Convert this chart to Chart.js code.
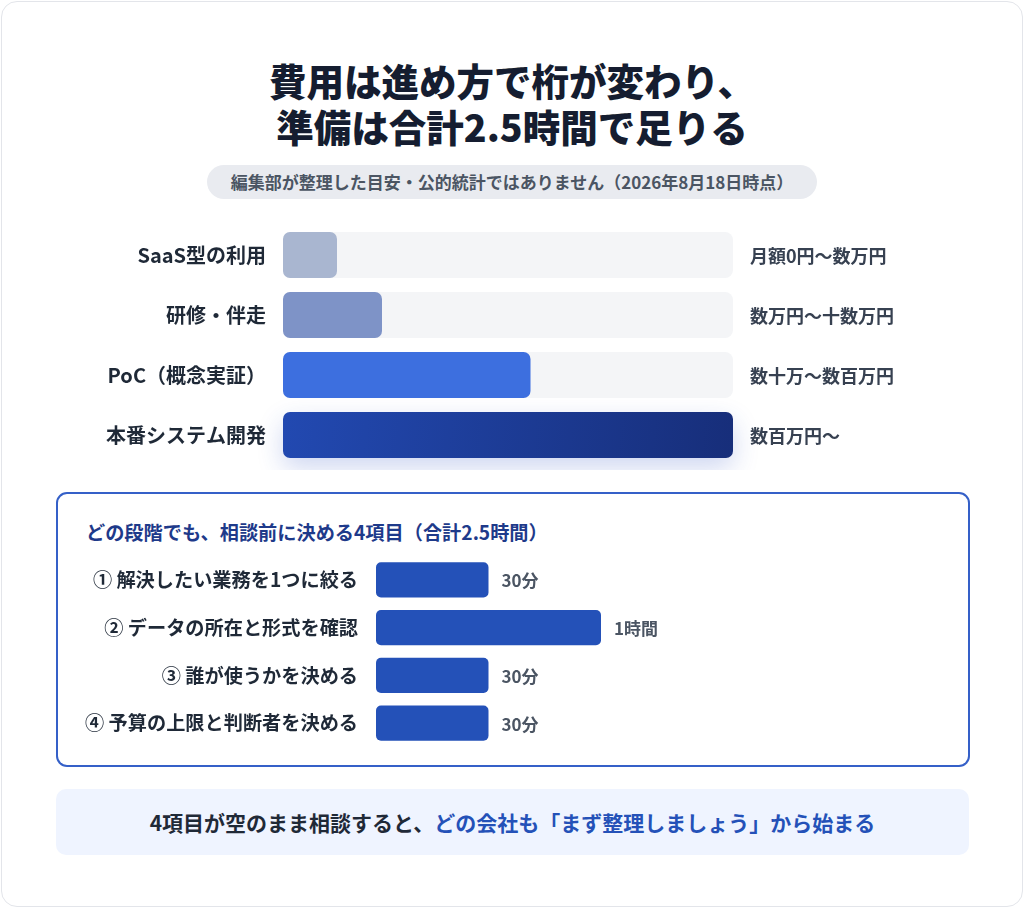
<!DOCTYPE html>
<html lang="ja">
<head>
<meta charset="utf-8">
<script src="https://cdn.jsdelivr.net/npm/chart.js@4.4.1/dist/chart.umd.min.js"></script>
<style>
  html,body{margin:0;padding:0;background:#ffffff;}
  body{width:1024px;height:908px;position:relative;overflow:hidden;font-family:'Noto Sans CJK JP','Noto Sans',sans-serif;}
  .card{position:absolute;left:1px;top:1px;width:1020px;height:904px;border:1px solid #e3e5ea;border-radius:16px;background:#fff;}
  .title{position:absolute;left:0;top:57px;width:1024px;text-align:center;font-size:37.5px;font-weight:900;line-height:46px;color:#151d30;}
  .pill{position:absolute;left:207px;top:165px;width:610px;height:34px;border-radius:17px;background:#e9ebf0;color:#4b5563;font-size:17px;font-weight:700;line-height:34px;text-align:center;white-space:nowrap;}
  .box{position:absolute;left:56px;top:492px;width:910px;height:271px;border:2px solid #3560c8;border-radius:11px;}
  .boxtitle{position:absolute;left:86px;top:518px;font-size:19.2px;font-weight:700;color:#1e3a8a;line-height:28px;white-space:nowrap;}
  .foot{position:absolute;left:56px;top:789px;width:913px;height:66px;border-radius:10px;background:#eff4ff;text-align:center;line-height:66px;font-size:21px;font-weight:700;color:#1f2937;white-space:nowrap;}
  .foot span{color:#2451b8;}
  canvas{position:absolute;left:0;}
  #c1{top:220px;}
  #c2{top:550px;}
</style>
</head>
<body>
<div class="card"></div>
<div class="title">費用は進め方で桁が変わり、<br>準備は合計2.5時間で足りる</div>
<div class="pill">編集部が整理した目安・公的統計ではありません（2026年8月18日時点）</div>
<canvas id="c1" width="1024" height="250"></canvas>
<div class="box"></div>
<div class="boxtitle">どの段階でも、相談前に決める4項目（合計2.5時間）</div>
<canvas id="c2" width="1024" height="202"></canvas>
<div class="foot">4項目が空のまま相談すると、<span>どの会社も「まず整理しましょう」から始まる</span></div>
<script>
// ---- data ----
const costCategories = ['SaaS型の利用', '研修・伴走', 'PoC（概念実証）', '本番システム開発'];
const costValues = [12, 22, 55, 100];
const costTrack = [100, 100, 100, 100];
const costLabels = ['月額0円〜数万円', '数万円〜十数万円', '数十万〜数百万円', '数百万円〜'];

const prepCategories = ['① 解決したい業務を1つに絞る', '② データの所在と形式を確認', '③ 誰が使うかを決める', '④ 予算の上限と判断者を決める'];
const prepMinutes = [30, 60, 30, 30];
const prepLabels = ['30分', '1時間', '30分', '30分'];

// ---- styles ----
const FONT = "'Noto Sans CJK JP','Noto Sans',sans-serif";
const costColors = ['#a9b6d0', '#7e93c7', '#3d6fdf', null];

function roundRect(ctx, x, y, w, h, r) {
  ctx.beginPath();
  ctx.moveTo(x + r, y);
  ctx.lineTo(x + w - r, y);
  ctx.quadraticCurveTo(x + w, y, x + w, y + r);
  ctx.lineTo(x + w, y + h - r);
  ctx.quadraticCurveTo(x + w, y + h, x + w - r, y + h);
  ctx.lineTo(x + r, y + h);
  ctx.quadraticCurveTo(x, y + h, x, y + h - r);
  ctx.lineTo(x, y + r);
  ctx.quadraticCurveTo(x, y, x + r, y);
  ctx.closePath();
}

const valueLabelPlugin = {
  id: 'valueLabels',
  afterDatasetsDraw(chart, args, opts) {
    const meta = chart.getDatasetMeta(0);
    const xs = chart.scales.x;
    const ctx = chart.ctx;
    ctx.save();
    ctx.font = opts.font;
    ctx.fillStyle = opts.color;
    ctx.textAlign = 'left';
    ctx.textBaseline = 'middle';
    meta.data.forEach((el, i) => {
      const x = (opts.atMax ? xs.getPixelForValue(xs.max) : el.x) + opts.offset;
      ctx.fillText(opts.labels[i], x, el.y + 1);
    });
    ctx.restore();
  }
};

const shadowPlugin = {
  id: 'barShadow',
  beforeDatasetsDraw(chart, args, opts) {
    if (opts.index == null) return;
    const el = chart.getDatasetMeta(0).data[opts.index];
    if (!el) return;
    const ctx = chart.ctx;
    const x0 = Math.min(el.base, el.x), w = Math.abs(el.x - el.base);
    const y0 = el.y - el.height / 2;
    ctx.save();
    ctx.shadowColor = 'rgba(37,72,190,0.22)';
    ctx.shadowBlur = 26;
    ctx.shadowOffsetY = 10;
    ctx.fillStyle = '#ffffff';
    roundRect(ctx, x0, y0, w, el.height, 8);
    ctx.fill();
    ctx.restore();
  }
};

Chart.register(valueLabelPlugin, shadowPlugin);

function fixAxis(width) {
  return function (s) {
    s.width = width;
    s.paddingTop = 0;
    s.paddingBottom = 0;
  };
}

new Chart(document.getElementById('c1'), {
  type: 'bar',
  data: {
    labels: costCategories,
    datasets: [
      {
        data: costValues,
        backgroundColor(c) {
          if (c.dataIndex === 3) {
            const ca = c.chart.chartArea;
            if (!ca) return '#1f3f9a';
            const g = c.chart.ctx.createLinearGradient(ca.left, ca.bottom - 50, ca.right, ca.bottom);
            g.addColorStop(0, '#2249b1');
            g.addColorStop(1, '#172e7a');
            return g;
          }
          return costColors[c.dataIndex];
        },
        borderRadius: 7,
        borderSkipped: false,
        order: 0
      },
      {
        data: costTrack,
        backgroundColor: '#f4f5f7',
        borderRadius: 8,
        borderSkipped: false,
        order: 1
      }
    ]
  },
  options: {
    indexAxis: 'y',
    responsive: false,
    animation: false,
    events: [],
    layout: { padding: { top: 5, bottom: 5, left: 0, right: 291 } },
    datasets: { bar: { grouped: false, barPercentage: 0.767, categoryPercentage: 1 } },
    scales: {
      x: { display: false, min: 0, max: 100 },
      y: {
        grid: { display: false, drawTicks: false },
        border: { display: false },
        ticks: { padding: 17, color: '#1f2937', font: { family: FONT, size: 20, weight: '700' } },
        afterFit: fixAxis(283)
      }
    },
    plugins: {
      legend: { display: false },
      tooltip: { enabled: false },
      valueLabels: { labels: costLabels, offset: 17, atMax: true, color: '#374151', font: "600 18px " + FONT },
      barShadow: { index: 3 }
    }
  }
});

new Chart(document.getElementById('c2'), {
  type: 'bar',
  data: {
    labels: prepCategories,
    datasets: [
      {
        data: prepMinutes,
        backgroundColor: '#2451b8',
        borderRadius: 5,
        borderSkipped: false
      }
    ]
  },
  options: {
    indexAxis: 'y',
    responsive: false,
    animation: false,
    events: [],
    layout: { padding: { top: 6, bottom: 5, left: 0, right: 423 } },
    datasets: { bar: { barPercentage: 0.733, categoryPercentage: 1 } },
    scales: {
      x: { display: false, min: 0, max: 60 },
      y: {
        grid: { display: false, drawTicks: false },
        border: { display: false },
        ticks: { padding: 18, color: '#1f2937', font: { family: FONT, size: 19.2, weight: '700' } },
        afterFit: fixAxis(376)
      }
    },
    plugins: {
      legend: { display: false },
      tooltip: { enabled: false },
      valueLabels: { labels: prepLabels, offset: 13, atMax: false, color: '#4b5563', font: "700 17px " + FONT },
      barShadow: { index: null }
    }
  }
});
</script>
</body>
</html>
